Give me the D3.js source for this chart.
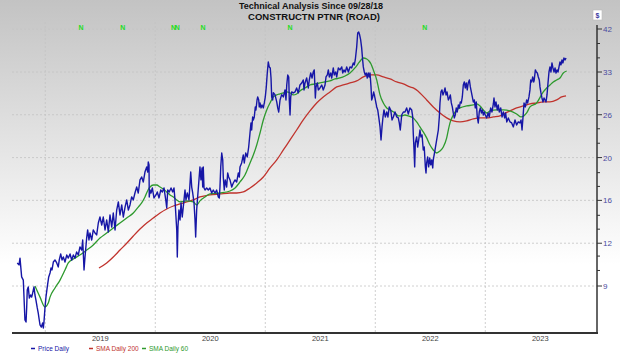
<!DOCTYPE html>
<html>
<head>
<meta charset="utf-8">
<script src="https://cdn.jsdelivr.net/npm/d3@7"></script>
<style>
  html, body { margin: 0; padding: 0; background: #fff; }
  svg { display: block; font-family: "Liberation Sans", Arial, sans-serif; }
</style>
</head>
<body>
<div id="chart"></div>
<script>
// Technical analysis chart - ROAD, price + 200/60 day SMA (log scale)

// time as decimal years, values in $
const priceDaily = [
  [2018.745,10.76],[2018.761,10.64],[2018.770,11.07],[2018.785,9.92],[2018.800,9.74],[2018.815,7.72],
  [2018.825,7.63],[2018.831,8.33],[2018.836,9.20],[2018.845,9.36],[2018.855,8.77],[2018.867,8.93],
  [2018.876,8.82],[2018.885,9.03],[2018.897,9.36],[2018.906,8.93],[2018.915,8.67],[2018.927,8.28],
  [2018.936,8.04],[2018.945,7.72],[2018.952,7.50],[2018.964,7.41],[2018.976,7.59],[2018.982,7.37],
  [2018.988,7.63],[2018.997,8.28],[2019.006,8.82],[2019.018,9.36],[2019.031,9.92],[2019.043,10.15],
  [2019.052,10.45],[2019.061,10.33],[2019.073,10.82],[2019.088,10.95],[2019.104,10.76],[2019.118,10.51],
  [2019.127,10.95],[2019.140,11.34],[2019.152,10.95],[2019.164,11.14],[2019.179,10.82],[2019.195,11.27],
  [2019.209,11.07],[2019.225,11.34],[2019.240,10.95],[2019.255,11.27],[2019.270,11.07],[2019.285,11.47],
  [2019.300,11.27],[2019.315,11.81],[2019.331,11.60],[2019.340,12.30],[2019.345,11.47],[2019.352,10.33],
  [2019.361,11.14],[2019.376,12.44],[2019.385,13.04],[2019.397,12.30],[2019.406,12.81],[2019.422,12.30],
  [2019.436,13.04],[2019.452,12.81],[2019.467,12.67],[2019.482,13.58],[2019.497,14.06],[2019.513,13.42],
  [2019.527,14.06],[2019.543,13.04],[2019.558,13.82],[2019.573,12.89],[2019.588,14.23],[2019.604,13.26],
  [2019.618,14.39],[2019.634,13.04],[2019.649,14.64],[2019.664,15.35],[2019.679,14.23],[2019.695,15.08],
  [2019.709,14.06],[2019.725,14.90],[2019.740,15.53],[2019.755,14.64],[2019.770,15.08],[2019.785,15.80],
  [2019.800,15.53],[2019.815,16.17],[2019.831,16.74],[2019.845,16.17],[2019.861,17.45],[2019.876,17.75],
  [2019.891,17.24],[2019.906,18.27],[2019.922,18.82],[2019.931,18.27],[2019.936,19.37],[2019.943,19.04],
  [2019.945,15.80],[2019.952,16.45],[2019.961,16.17],[2019.973,16.65],[2019.988,15.71],[2020.006,15.99],
  [2020.018,16.27],[2020.034,15.71],[2020.049,16.45],[2020.064,16.27],[2020.079,16.65],[2020.095,15.53],
  [2020.104,14.82],[2020.113,16.45],[2020.127,16.27],[2020.143,16.65],[2020.158,16.27],[2020.170,16.65],
  [2020.179,15.53],[2020.188,14.06],[2020.195,13.04],[2020.200,11.14],[2020.206,13.26],[2020.215,14.64],
  [2020.225,13.82],[2020.234,15.26],[2020.245,14.06],[2020.261,15.53],[2020.270,16.45],[2020.279,15.53],
  [2020.291,16.17],[2020.306,15.53],[2020.322,18.27],[2020.331,16.74],[2020.340,16.17],[2020.352,15.26],
  [2020.361,13.82],[2020.367,12.52],[2020.376,14.64],[2020.385,15.80],[2020.397,17.45],[2020.406,18.82],
  [2020.415,17.45],[2020.425,18.71],[2020.431,16.74],[2020.436,18.82],[2020.443,16.65],[2020.452,16.45],
  [2020.467,16.65],[2020.482,16.45],[2020.497,16.65],[2020.513,16.17],[2020.527,16.45],[2020.543,16.17],
  [2020.558,16.45],[2020.573,15.80],[2020.582,15.71],[2020.588,16.74],[2020.595,18.82],[2020.604,20.41],
  [2020.613,19.60],[2020.618,17.75],[2020.627,16.45],[2020.636,17.45],[2020.649,16.74],[2020.658,18.17],
  [2020.667,17.75],[2020.679,17.45],[2020.695,16.74],[2020.709,17.14],[2020.725,17.45],[2020.740,17.24],
  [2020.755,18.17],[2020.764,17.75],[2020.770,18.82],[2020.785,19.26],[2020.800,20.17],[2020.809,19.26],
  [2020.822,20.41],[2020.836,19.94],[2020.849,21.13],[2020.861,22.93],[2020.870,24.31],[2020.876,23.33],
  [2020.885,25.17],[2020.891,24.73],[2020.900,25.17],[2020.909,26.68],[2020.915,26.22],[2020.925,27.79],
  [2020.931,28.28],[2020.940,27.79],[2020.945,26.68],[2020.952,27.31],[2020.961,26.53],[2020.970,26.99],
  [2020.982,26.53],[2020.991,27.31],[2021.000,28.28],[2021.009,29.98],[2021.018,32.51],[2021.027,34.66],
  [2021.036,33.68],[2021.045,33.48],[2021.052,31.58],[2021.058,28.28],[2021.067,27.79],[2021.073,29.00],
  [2021.088,28.66],[2021.104,27.47],[2021.113,26.53],[2021.122,25.91],[2021.134,27.79],[2021.149,28.66],
  [2021.164,28.28],[2021.179,29.46],[2021.188,27.79],[2021.195,30.32],[2021.204,32.14],[2021.213,31.77],
  [2021.218,27.79],[2021.225,25.46],[2021.231,28.28],[2021.240,29.12],[2021.255,28.95],[2021.270,29.12],
  [2021.285,29.80],[2021.300,28.95],[2021.315,30.32],[2021.331,30.68],[2021.345,31.22],[2021.352,29.46],
  [2021.361,30.68],[2021.376,31.58],[2021.391,29.80],[2021.400,31.22],[2021.413,32.51],[2021.425,31.58],
  [2021.436,32.70],[2021.445,33.10],[2021.455,28.11],[2021.461,29.98],[2021.473,30.68],[2021.482,29.46],
  [2021.497,29.80],[2021.513,30.32],[2021.527,29.46],[2021.543,30.32],[2021.552,31.77],[2021.564,32.14],
  [2021.573,33.10],[2021.582,31.77],[2021.595,32.51],[2021.604,31.58],[2021.618,33.48],[2021.627,32.14],
  [2021.640,32.70],[2021.649,31.77],[2021.664,33.48],[2021.679,33.10],[2021.695,33.68],[2021.704,32.51],
  [2021.715,33.10],[2021.727,32.70],[2021.740,33.68],[2021.755,32.70],[2021.770,33.68],[2021.785,33.48],
  [2021.800,34.47],[2021.809,34.07],[2021.818,35.07],[2021.831,37.84],[2021.840,41.03],[2021.849,41.27],
  [2021.858,40.55],[2021.867,39.40],[2021.876,37.62],[2021.885,35.07],[2021.891,33.68],[2021.900,32.70],
  [2021.909,32.14],[2021.918,32.51],[2021.927,31.58],[2021.936,32.51],[2021.945,31.77],[2021.952,32.51],
  [2021.961,29.98],[2021.967,27.79],[2021.976,28.28],[2021.985,29.12],[2021.995,28.28],[2022.004,27.47],
  [2022.013,26.68],[2022.022,26.22],[2022.031,25.17],[2022.043,23.75],[2022.052,22.02],[2022.061,23.75],
  [2022.070,25.17],[2022.079,26.22],[2022.091,25.17],[2022.104,25.91],[2022.115,25.17],[2022.127,26.68],
  [2022.140,26.22],[2022.152,24.73],[2022.164,25.17],[2022.179,25.91],[2022.195,25.17],[2022.209,25.03],
  [2022.218,24.31],[2022.227,23.33],[2022.240,25.46],[2022.255,25.91],[2022.270,25.91],[2022.285,26.53],
  [2022.300,25.61],[2022.315,26.53],[2022.331,26.22],[2022.340,25.17],[2022.345,22.93],[2022.352,20.77],
  [2022.358,18.82],[2022.364,21.63],[2022.376,22.41],[2022.385,21.13],[2022.395,22.02],[2022.406,23.33],
  [2022.415,22.41],[2022.425,22.67],[2022.436,20.77],[2022.445,21.13],[2022.455,18.82],[2022.461,18.17],
  [2022.467,19.26],[2022.476,19.94],[2022.485,18.82],[2022.495,19.82],[2022.504,19.04],[2022.513,19.60],
  [2022.522,18.71],[2022.527,19.60],[2022.543,20.77],[2022.558,22.02],[2022.573,23.33],[2022.582,25.17],
  [2022.588,27.31],[2022.597,29.12],[2022.606,29.46],[2022.615,28.61],[2022.625,29.12],[2022.634,29.80],
  [2022.643,28.61],[2022.652,29.12],[2022.664,27.79],[2022.673,28.11],[2022.682,28.61],[2022.691,27.31],
  [2022.700,26.68],[2022.709,25.76],[2022.718,25.03],[2022.727,25.46],[2022.736,26.53],[2022.745,25.91],
  [2022.755,26.99],[2022.764,26.53],[2022.773,27.47],[2022.782,27.31],[2022.791,28.28],[2022.800,30.32],
  [2022.809,30.86],[2022.818,29.80],[2022.827,30.68],[2022.836,29.46],[2022.845,30.68],[2022.855,31.22],
  [2022.864,29.98],[2022.873,29.12],[2022.882,28.28],[2022.891,27.47],[2022.900,27.79],[2022.909,26.53],
  [2022.918,27.47],[2022.927,25.17],[2022.936,24.31],[2022.945,25.91],[2022.955,26.53],[2022.964,25.76],
  [2022.973,26.22],[2022.982,25.46],[2022.991,25.91],[2023.000,25.46],[2023.013,25.03],[2023.025,25.76],
  [2023.036,25.17],[2023.049,26.53],[2023.061,25.91],[2023.073,27.15],[2023.079,28.11],[2023.088,26.68],
  [2023.097,27.47],[2023.109,26.22],[2023.118,26.99],[2023.127,25.91],[2023.140,26.53],[2023.152,25.17],
  [2023.164,25.91],[2023.176,25.03],[2023.185,25.76],[2023.195,24.45],[2023.209,25.03],[2023.225,24.45],
  [2023.240,24.31],[2023.255,23.75],[2023.270,24.73],[2023.285,24.03],[2023.300,24.45],[2023.315,24.31],
  [2023.325,24.73],[2023.334,23.33],[2023.343,25.17],[2023.352,27.31],[2023.364,26.68],[2023.376,27.79],
  [2023.385,27.31],[2023.397,28.28],[2023.406,29.46],[2023.413,31.22],[2023.422,30.86],[2023.431,31.77],
  [2023.440,30.86],[2023.445,31.22],[2023.455,33.10],[2023.464,32.70],[2023.473,32.51],[2023.482,31.77],
  [2023.491,31.22],[2023.497,29.98],[2023.506,28.95],[2023.515,28.11],[2023.525,27.47],[2023.534,28.11],
  [2023.543,27.79],[2023.552,27.47],[2023.561,28.61],[2023.570,30.68],[2023.579,32.70],[2023.588,33.68],
  [2023.597,32.70],[2023.606,34.47],[2023.615,33.48],[2023.625,32.70],[2023.634,33.48],[2023.643,32.51],
  [2023.652,33.10],[2023.661,32.70],[2023.670,33.68],[2023.679,34.66],[2023.688,34.07],[2023.697,35.07],
  [2023.706,34.47],[2023.715,35.48],[2023.725,35.07],[2023.734,35.48]
];

const sma200 = [
  [2019.488,10.45],[2019.558,10.76],[2019.618,11.14],[2019.679,11.60],[2019.740,12.07],[2019.800,12.59],
  [2019.861,13.11],[2019.922,13.58],[2019.982,13.98],[2020.043,14.39],[2020.104,14.73],[2020.164,14.99],
  [2020.225,15.17],[2020.285,15.35],[2020.345,15.53],[2020.406,15.80],[2020.497,15.99],[2020.588,16.08],
  [2020.679,16.17],[2020.740,16.17],[2020.800,16.27],[2020.861,16.65],[2020.922,17.14],[2020.982,17.75],
  [2021.043,18.71],[2021.104,19.60],[2021.164,20.77],[2021.225,22.02],[2021.285,23.33],[2021.345,24.73],
  [2021.406,26.07],[2021.467,27.31],[2021.527,28.28],[2021.588,29.12],[2021.649,29.98],[2021.709,30.32],
  [2021.770,30.68],[2021.831,31.04],[2021.891,31.77],[2021.952,32.14],[2022.013,32.14],[2022.073,31.77],
  [2022.134,31.40],[2022.195,30.86],[2022.255,30.50],[2022.315,29.98],[2022.345,29.80],[2022.406,28.95],
  [2022.467,27.79],[2022.527,26.68],[2022.588,25.76],[2022.649,25.03],[2022.709,24.59],[2022.770,24.45],
  [2022.831,24.59],[2022.891,24.88],[2022.952,25.03],[2023.013,25.03],[2023.073,25.17],[2023.134,25.32],
  [2023.164,25.61],[2023.225,26.07],[2023.285,26.53],[2023.345,26.84],[2023.406,27.15],[2023.467,27.31],
  [2023.527,27.47],[2023.588,27.47],[2023.649,27.79],[2023.694,28.28],[2023.734,28.45]
];

const sma60 = [
  [2018.906,9.41],[2018.952,8.82],[2018.997,8.33],[2019.027,8.52],[2019.043,8.82],[2019.088,9.30],
  [2019.134,9.74],[2019.179,10.33],[2019.209,10.76],[2019.255,11.01],[2019.315,11.27],[2019.376,11.60],
  [2019.436,11.95],[2019.497,12.44],[2019.558,12.81],[2019.618,13.19],[2019.679,13.58],[2019.740,13.98],
  [2019.800,14.39],[2019.845,14.90],[2019.876,15.26],[2019.906,15.80],[2019.934,16.45],[2019.952,16.74],
  [2019.982,16.94],[2020.013,16.94],[2020.043,16.74],[2020.073,16.55],[2020.104,16.27],[2020.134,15.99],
  [2020.164,15.80],[2020.195,15.53],[2020.225,15.35],[2020.285,15.44],[2020.345,15.35],[2020.376,15.08],
  [2020.406,15.44],[2020.452,15.80],[2020.497,16.08],[2020.588,16.17],[2020.679,16.36],[2020.725,16.65],
  [2020.770,17.24],[2020.815,17.96],[2020.861,19.26],[2020.891,20.17],[2020.922,21.38],[2020.952,22.93],
  [2020.982,24.73],[2021.013,26.22],[2021.043,27.31],[2021.073,28.28],[2021.104,28.61],[2021.134,28.78],
  [2021.164,28.95],[2021.195,29.12],[2021.225,28.95],[2021.255,28.61],[2021.285,28.78],[2021.315,29.29],
  [2021.361,29.80],[2021.406,30.32],[2021.452,30.50],[2021.497,30.68],[2021.543,30.86],[2021.588,31.04],
  [2021.634,31.40],[2021.679,31.58],[2021.725,31.95],[2021.770,32.51],[2021.815,33.48],[2021.843,34.27],
  [2021.870,35.07],[2021.891,35.48],[2021.922,35.28],[2021.943,34.87],[2021.961,34.27],[2021.982,33.10],
  [2022.013,31.22],[2022.027,29.98],[2022.043,28.61],[2022.073,27.31],[2022.104,26.53],[2022.134,26.22],
  [2022.179,25.76],[2022.209,25.32],[2022.240,25.32],[2022.270,25.46],[2022.300,25.32],[2022.345,25.03],
  [2022.376,24.45],[2022.406,23.75],[2022.436,23.07],[2022.467,22.28],[2022.497,21.38],[2022.527,20.77],
  [2022.558,20.41],[2022.588,20.65],[2022.618,21.13],[2022.649,22.28],[2022.664,23.33],[2022.679,24.31],
  [2022.709,25.46],[2022.740,26.22],[2022.770,26.53],[2022.831,26.84],[2022.891,26.99],[2022.922,27.15],
  [2022.952,26.84],[2022.982,26.22],[2023.013,25.76],[2023.043,26.07],[2023.104,26.22],[2023.164,26.22],
  [2023.225,26.07],[2023.285,25.61],[2023.325,25.17],[2023.376,25.76],[2023.406,26.68],[2023.467,27.31],
  [2023.527,29.12],[2023.558,29.80],[2023.588,30.32],[2023.618,30.86],[2023.649,31.22],[2023.679,31.58],
  [2023.709,32.51],[2023.740,32.89]
];

const years = [2019, 2020, 2021, 2022, 2023];
const yTickValues = [9.41, 12.07, 15.49, 19.87, 25.5, 32.7, 42];
const yTickLabels = ['9', '12', '16', '20', '26', '33', '42'];
const yMinorValues = [10.3, 11.2, 13.1, 14.2, 16.8, 18.2, 21.6, 23.5, 27.7, 30.1, 35.5, 38.6];
// new-high "N" flags along the top
const newHighs = [2019.325, 2019.705, 2020.165, 2020.200, 2020.435, 2021.225, 2022.450];

const W = 620, H = 353;
const plot = { left: 12, right: 597, top: 22, bottom: 333 };

const svg = d3.select('#chart').append('svg')
  .attr('width', W).attr('height', H);

// background gradient gray -> white
const grad = svg.append('defs').append('linearGradient')
  .attr('id', 'bg').attr('x1', 0).attr('y1', 0).attr('x2', 0).attr('y2', 1);
grad.append('stop').attr('offset', '0%').attr('stop-color', '#c3c3c3');
grad.append('stop').attr('offset', '75%').attr('stop-color', '#ffffff');
grad.append('stop').attr('offset', '100%').attr('stop-color', '#ffffff');
svg.append('rect').attr('width', W).attr('height', H).attr('fill', 'url(#bg)');

const x = d3.scaleLinear().domain([2019, 2023]).range([45.3, 485.3]);
const y = d3.scaleLog().domain([9.41, 42]).range([286, 29]);

// grid
svg.append('g').selectAll('line.h')
  .data(yTickValues)
  .join('line')
  .attr('x1', plot.left).attr('x2', plot.right)
  .attr('y1', d => y(d)).attr('y2', d => y(d))
  .attr('stroke', '#c4c4c4').attr('stroke-width', 0.8)
  .attr('stroke-dasharray', '2,2');
svg.append('g').selectAll('line.v')
  .data(years)
  .join('line')
  .attr('x1', d => x(d)).attr('x2', d => x(d))
  .attr('y1', plot.top).attr('y2', plot.bottom)
  .attr('stroke', '#c4c4c4').attr('stroke-width', 0.8)
  .attr('stroke-dasharray', '2,2');

// series
const line = d3.line().x(d => x(d[0])).y(d => y(d[1]));
svg.append('path').datum(sma200)
  .attr('fill', 'none').attr('stroke', '#c0332d').attr('stroke-width', 1.3)
  .attr('d', line.curve(d3.curveMonotoneX));
svg.append('path').datum(sma60)
  .attr('fill', 'none').attr('stroke', '#2e9a2e').attr('stroke-width', 1.3)
  .attr('d', line.curve(d3.curveMonotoneX));
svg.append('path').datum(priceDaily)
  .attr('fill', 'none').attr('stroke', '#1616a6').attr('stroke-width', 1.4)
  .attr('stroke-linejoin', 'round')
  .attr('d', line.curve(d3.curveLinear));

// axes lines
svg.append('line')
  .attr('x1', plot.left).attr('x2', plot.right + 1)
  .attr('y1', plot.bottom).attr('y2', plot.bottom)
  .attr('stroke', '#333').attr('stroke-width', 2);
svg.append('line')
  .attr('x1', plot.right).attr('x2', plot.right)
  .attr('y1', 25).attr('y2', plot.bottom)
  .attr('stroke', '#333').attr('stroke-width', 1.5);

// right axis ticks + labels
const yAxis = svg.append('g');
yAxis.selectAll('line.major')
  .data(yTickValues)
  .join('line')
  .attr('x1', plot.right).attr('x2', plot.right + 5)
  .attr('y1', d => y(d)).attr('y2', d => y(d))
  .attr('stroke', '#333').attr('stroke-width', 1);
yAxis.selectAll('line.minor')
  .data(yMinorValues)
  .join('line')
  .attr('class', 'minor')
  .attr('x1', plot.right).attr('x2', plot.right + 3)
  .attr('y1', d => y(d)).attr('y2', d => y(d))
  .attr('stroke', '#333').attr('stroke-width', 1);
yAxis.selectAll('text')
  .data(yTickValues)
  .join('text')
  .attr('x', plot.right + 6)
  .attr('y', d => y(d) + 3)
  .attr('font-size', '8px')
  .attr('fill', '#4a4aa0')
  .text((d, i) => yTickLabels[i]);

// "$" box
svg.append('rect')
  .attr('x', 593).attr('y', 10).attr('width', 9).attr('height', 10)
  .attr('fill', '#fff').attr('stroke', '#bbb').attr('stroke-width', 0.6);
svg.append('text')
  .attr('x', 597.5).attr('y', 18)
  .attr('text-anchor', 'middle')
  .attr('font-size', '7px').attr('font-weight', 'bold')
  .attr('fill', '#3a3aa0')
  .text('$');

// year labels, centred in each year
svg.append('g').selectAll('text')
  .data(years)
  .join('text')
  .attr('x', d => x(d + 0.5))
  .attr('y', 341)
  .attr('text-anchor', 'middle')
  .attr('font-size', '7.5px')
  .attr('fill', '#444')
  .text(d => d);

// N markers
svg.append('g').selectAll('text')
  .data(newHighs)
  .join('text')
  .attr('x', d => x(d))
  .attr('y', 30)
  .attr('text-anchor', 'middle')
  .attr('font-size', '7px')
  .attr('font-weight', 'bold')
  .attr('fill', '#22dd22')
  .text('N');

// titles
svg.append('text')
  .attr('x', 311).attr('y', 9)
  .attr('text-anchor', 'middle')
  .attr('font-size', '9px').attr('font-weight', 'bold')
  .attr('fill', '#111')
  .text('Technical Analysis Since 09/28/18');
svg.append('text')
  .attr('x', 314).attr('y', 20)
  .attr('text-anchor', 'middle')
  .attr('font-size', '9.5px').attr('font-weight', 'bold')
  .attr('fill', '#111')
  .text('CONSTRUCTN PTNR (ROAD)');

// legend
const legend = [
  { label: 'Price Daily', color: '#1616a6', x: 31 },
  { label: 'SMA Daily 200', color: '#c0332d', x: 89 },
  { label: 'SMA Daily 60', color: '#2e9a2e', x: 142 }
];
const lg = svg.append('g').selectAll('g')
  .data(legend)
  .join('g')
  .attr('transform', d => `translate(${d.x},351)`);
lg.append('line')
  .attr('x1', 0).attr('x2', 4).attr('y1', -2.5).attr('y2', -2.5)
  .attr('stroke', d => d.color).attr('stroke-width', 1.5);
lg.append('text')
  .attr('x', 7).attr('y', 0)
  .attr('font-size', '6.5px')
  .attr('fill', d => d.color)
  .text(d => d.label);
</script>
</body>
</html>
